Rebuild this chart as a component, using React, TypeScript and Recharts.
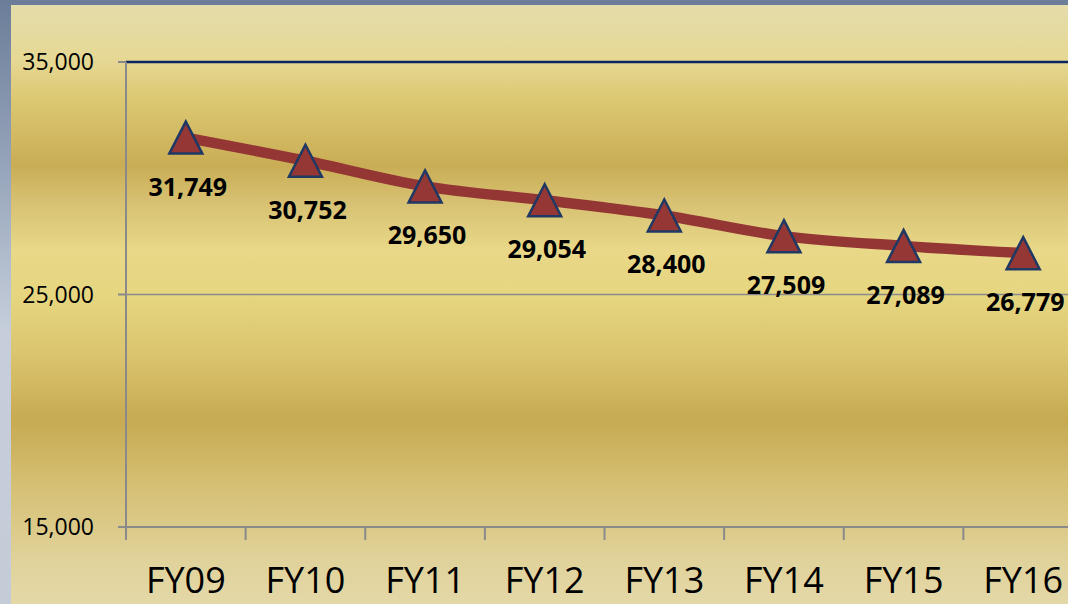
import React from "react";
import {
  LineChart,
  Line,
  XAxis,
  YAxis,
  CartesianGrid,
  ReferenceLine,
  LabelList,
} from "recharts";

const categories = ["FY09", "FY10", "FY11", "FY12", "FY13", "FY14", "FY15", "FY16"];
const values = [31749, 30752, 29650, 29054, 28400, 27509, 27089, 26779];
const yTicks = [15000, 25000, 35000];

const data = categories.map((fy, i) => ({ fy, value: values[i] }));

const fmt = (v: number) => v.toLocaleString("en-US");

const AXIS_GRAY = "#8a8a8a";
const CHART_W = 1090;
const PLOT_LEFT = 126;
const PLOT_RIGHT_MARGIN = 7;
const PLOT_W = CHART_W - PLOT_LEFT - PLOT_RIGHT_MARGIN;
const HALF_BAND = PLOT_W / categories.length / 2;

const XTick = (props: any) => {
  const { x, y, payload, index } = props;
  const off = HALF_BAND;
  return (
    <g>
      <line x1={x - off} x2={x - off} y1={y} y2={y + 13} stroke={AXIS_GRAY} strokeWidth={2} />
      {index === categories.length - 1 ? (
        <line x1={x + off} x2={x + off} y1={y} y2={y + 13} stroke={AXIS_GRAY} strokeWidth={2} />
      ) : null}
      <text
        x={x}
        y={y + 66}
        textAnchor="middle"
        fontFamily="'Open Sans', sans-serif"
        fontSize={36}
        fill="#000"
      >
        {payload.value}
      </text>
    </g>
  );
};

const TriangleDot = (props: any) => {
  const { cx, cy } = props;
  if (cx == null || cy == null) return null;
  const w = 16.5;
  const h = 16;
  return (
    <path
      d={`M${cx},${cy - h} L${cx + w},${cy + h} L${cx - w},${cy + h} Z`}
      fill="#953735"
      stroke="#1f3864"
      strokeWidth={2.5}
      strokeLinejoin="miter"
    />
  );
};

const ValueLabel = (props: any) => {
  const { x, y, value } = props;
  return (
    <text
      x={x + 2}
      y={y + 48}
      textAnchor="middle"
      dominantBaseline="central"
      fontFamily="'Open Sans', sans-serif"
      fontWeight="bold"
      fontSize={25}
      fill="#000"
    >
      {fmt(value)}
    </text>
  );
};

export default function App() {
  return (
    <div
      style={{
        position: "fixed",
        left: 0,
        top: 0,
        width: 1068,
        height: 604,
        overflow: "hidden",
        background: "linear-gradient(to bottom, #6b7d99 0%, #9aa8bd 30%, #c6cedb 55%, #c4ccd8 100%)",
      }}
    >
      <div
        style={{
          position: "absolute",
          left: 0,
          top: 0,
          width: 1068,
          height: 5,
          background: "#6b7d99",
        }}
      />
      <div
        style={{
          position: "absolute",
          left: 11,
          top: 5,
          width: 1057,
          height: 599,
          background:
            "linear-gradient(to bottom, #e4dcaa 0px, #e6d894 55px, #dcc872 95px, #c9ad55 160px, #d8c274 200px, #e8d888 245px, #e6d680 290px, #dcc670 345px, #c7aa52 415px, #d4be70 475px, #e0d29a 555px, #e4d8a8 599px)",
        }}
      />
      <div style={{ position: "absolute", left: 0, top: 0 }}>
        <LineChart
          width={CHART_W}
          height={604}
          data={data}
          margin={{ top: 62, right: PLOT_RIGHT_MARGIN, left: 0, bottom: 0 }}
        >
          <CartesianGrid horizontal={true} vertical={false} stroke={AXIS_GRAY} strokeWidth={1.5} />
          <ReferenceLine y={35000} stroke="#0c2461" strokeWidth={2.5} ifOverflow="extendDomain" />
          <XAxis
            dataKey="fy"
            height={77}
            padding={{ left: HALF_BAND, right: HALF_BAND }}
            axisLine={{ stroke: AXIS_GRAY, strokeWidth: 2 }}
            tickLine={false}
            tickSize={0}
            tickMargin={0}
            tick={<XTick />}
            interval={0}
          />
          <YAxis
            width={PLOT_LEFT}
            domain={[15000, 35000]}
            ticks={yTicks}
            allowDataOverflow={true}
            axisLine={{ stroke: AXIS_GRAY, strokeWidth: 2 }}
            tickLine={{ stroke: AXIS_GRAY, strokeWidth: 2 }}
            tickSize={8}
            tickMargin={24}
            tickFormatter={fmt}
            tick={{ fill: "#000", fontSize: 23, fontFamily: "'Open Sans', sans-serif" }}
          />
          <Line
            type="monotone"
            dataKey="value"
            stroke="#943634"
            strokeWidth={10.5}
            dot={<TriangleDot />}
            activeDot={false}
            isAnimationActive={false}
          >
            <LabelList dataKey="value" content={<ValueLabel />} />
          </Line>
        </LineChart>
      </div>
    </div>
  );
}
